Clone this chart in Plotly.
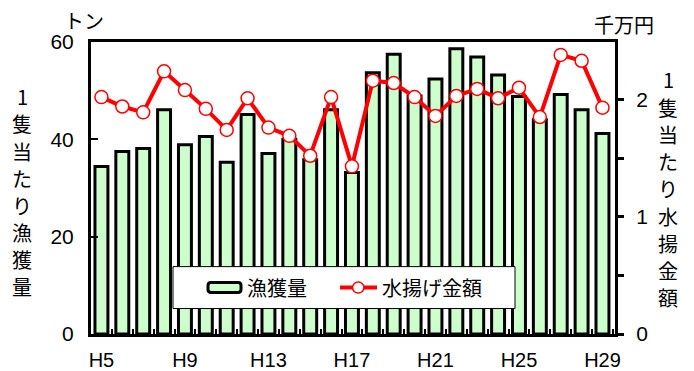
import plotly.graph_objects as go

# Fiscal years (Heisei)
years = ["H%d" % y for y in range(5, 30)]
# Catch per vessel (tons)
catch_t = [34.4, 37.5, 38.1, 46.1, 38.9, 40.6, 35.3, 45.1, 37.1, 40.0,
           35.8, 46.1, 33.2, 53.7, 57.5, 48.9, 52.4, 58.6, 56.9, 53.2,
           48.8, 44.0, 49.2, 46.1, 41.2]
# Landing value per vessel (10 million yen)
value_m = [2.02, 1.94, 1.89, 2.24, 2.08, 1.92, 1.74, 2.01, 1.76, 1.69,
           1.52, 2.02, 1.43, 2.16, 2.14, 2.02, 1.86, 2.03, 2.09, 2.01,
           2.10, 1.85, 2.38, 2.33, 1.93]
label_years = ["H5", "H9", "H13", "H17", "H21", "H25", "H29"]

xpos = list(range(len(years)))
label_pos = [years.index(y) for y in label_years]

JP = "Noto Sans CJK JP"
NUM = "Liberation Sans, Arial, sans-serif"

# plot-area geometry in pixels
L, R, T, B = 91, 615, 42, 334.5
W, H = R - L, B - T


def px(x):
    return (x - L) / W


def py(y):
    return (B - y) / H


fig = go.Figure()
fig.add_trace(go.Bar(
    x=xpos, y=catch_t, name="漁獲量", width=0.62,
    marker=dict(color="#CCFFCC", line=dict(color="black", width=3)),
    yaxis="y",
))
fig.add_trace(go.Scatter(
    x=xpos, y=value_m, name="水揚げ金額", mode="lines+markers",
    line=dict(color="#FF0000", width=4),
    marker=dict(symbol="circle", size=13, color="white",
                line=dict(color="#FF0000", width=1.5)),
    yaxis="y2",
))

fig.update_layout(
    width=694, height=371,
    margin=dict(l=L, r=694 - R, t=T, b=371 - B, autoexpand=False),
    paper_bgcolor="white", plot_bgcolor="white",
    showlegend=False,
    xaxis=dict(
        range=[-0.5, 24.6], tickmode="array", tickvals=label_pos,
        ticktext=label_years, ticks="", showline=True, linecolor="black",
        linewidth=3, mirror=True, showgrid=False, zeroline=False,
        automargin=False, ticklabelstandoff=6,
        tickfont=dict(family=NUM, size=20, color="black"),
        minor=dict(tickmode="array", tickvals=[i + 0.5 for i in xpos],
                   ticks="inside", ticklen=5, tickwidth=2, tickcolor="black"),
    ),
    yaxis=dict(
        range=[0, 60], tickvals=[0, 20, 40, 60], ticks="inside",
        ticklen=7, tickwidth=2, tickcolor="black",
        showline=True, linecolor="black", linewidth=3,
        showgrid=False, zeroline=False, automargin=False,
        ticklabelstandoff=10,
        tickfont=dict(family=NUM, size=21, color="black"),
    ),
    yaxis2=dict(
        range=[0, 2.49], overlaying="y", side="right",
        tickmode="array", tickvals=[0, 0.5, 1, 1.5, 2],
        ticktext=["0", "", "1", "", "2"], ticks="outside",
        ticklen=6, tickwidth=3, tickcolor="black",
        showline=True, linecolor="black", linewidth=3,
        showgrid=False, zeroline=False, automargin=False,
        ticklabelstandoff=8,
        tickfont=dict(family=NUM, size=21, color="black"),
    ),
)

# unit labels
for text, x, y in [("トン", 84, 20), ("千万円", 624, 24)]:
    fig.add_annotation(
        text=text, xref="paper", yref="paper", x=px(x), y=py(y),
        xanchor="center", yanchor="middle", showarrow=False,
        font=dict(family=JP, size=20, color="black"),
    )

# vertical axis titles, one character per row
for title, x, y0, step in [("1隻当たり漁獲量", 22, 97, 27.1),
                           ("1隻当たり水揚金額", 668, 80, 27.3)]:
    for i, ch in enumerate(title):
        fig.add_annotation(
            text=ch, xref="paper", yref="paper",
            x=px(x), y=py(y0 + i * step),
            xanchor="center", yanchor="middle", showarrow=False,
            font=dict(family=JP, size=20, color="black"),
        )

# legend box
fig.add_shape(type="rect", xref="paper", yref="paper",
              x0=px(173), x1=px(515), y0=py(309), y1=py(267),
              fillcolor="white", line=dict(color="black", width=1),
              layer="above")
# bar key: rounded green box
bx0, bx1, by0, by1, r = 208, 241, 283, 293, 3
path = (f"M {px(bx0 + r)} {py(by0)} L {px(bx1 - r)} {py(by0)} "
        f"Q {px(bx1)} {py(by0)} {px(bx1)} {py(by0 + r)} "
        f"L {px(bx1)} {py(by1 - r)} Q {px(bx1)} {py(by1)} {px(bx1 - r)} {py(by1)} "
        f"L {px(bx0 + r)} {py(by1)} Q {px(bx0)} {py(by1)} {px(bx0)} {py(by1 - r)} "
        f"L {px(bx0)} {py(by0 + r)} Q {px(bx0)} {py(by0)} {px(bx0 + r)} {py(by0)} Z")
fig.add_shape(type="path", xref="paper", yref="paper", path=path,
              fillcolor="#CCFFCC", line=dict(color="black", width=3),
              layer="above")
# line key: red segment with open circle
fig.add_shape(type="line", xref="paper", yref="paper",
              x0=px(340), x1=px(377), y0=py(288), y1=py(288),
              line=dict(color="#FF0000", width=4), layer="above")
fig.add_shape(type="circle", xref="paper", yref="paper",
              x0=px(352.5), x1=px(364), y0=py(293.5), y1=py(282.5),
              fillcolor="white", line=dict(color="#FF0000", width=1.5),
              layer="above")
for text, x in [("漁獲量", 245), ("水揚げ金額", 380)]:
    fig.add_annotation(
        text=text, xref="paper", yref="paper", x=px(x), y=py(288),
        xanchor="left", yanchor="middle", showarrow=False,
        font=dict(family=JP, size=20, color="black"),
    )

fig.write_html("out.html")
